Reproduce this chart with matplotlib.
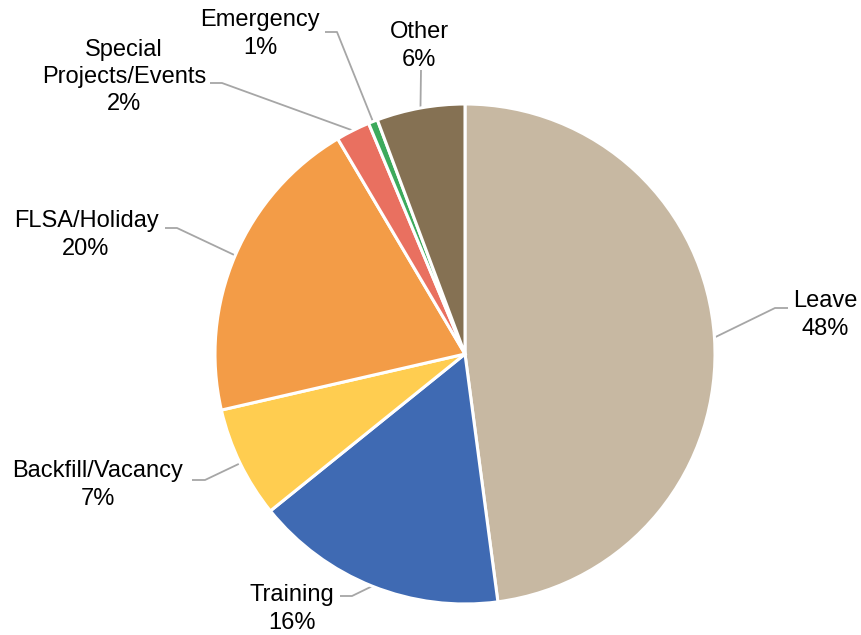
import numpy as np
import matplotlib
matplotlib.use("Agg")
import matplotlib.pyplot as plt

categories = ["Leave", "Training", "Backfill/Vacancy", "FLSA/Holiday",
              "Special\nProjects/Events", "Emergency", "Other"]
values = [47.9, 16.3, 7.2, 20.1, 2.2, 0.6, 5.7]
colors = ["#C7B8A2", "#3F6AB3", "#FFCD50", "#F39C47", "#E97060", "#3DAA5C", "#857153"]

H = 635
# label layout (pixel coords, y from top): text center, elbow point, stub end
label_pos = [(825, 315), (292, 609), (98, 485), (86, 235), (124, 77), (260, 34), (419, 46)]
elbow = [(775, 308), (352, 596), (205, 480), (177, 228), (222, 83), (337, 32), (421, 70)]
stub = [(788, 308), (340, 596), (192, 480), (165, 228), (210, 83), (325, 32), (421, 70)]

fig = plt.figure(figsize=(8.61, 6.35), dpi=100)
ax = fig.add_axes([0, 0, 1, 1])

cx, cy, r = 465, H - 354, 250
ax.pie(values, colors=colors, startangle=90, counterclock=False,
       center=(cx, cy), radius=r, frame=True,
       wedgeprops=dict(edgecolor="white", linewidth=2.2))
ax.set_xlim(0, 861)
ax.set_ylim(0, H)
ax.set_aspect("equal")
ax.axis("off")

total = sum(values)
start = 90.0
for i, (cat, v) in enumerate(zip(categories, values)):
    span = 360.0 * v / total
    mid = np.deg2rad(start - span / 2)
    start -= span
    px, py = cx + r * np.cos(mid), cy + r * np.sin(mid)
    ex, ey = elbow[i]
    sx, sy = stub[i]
    ax.plot([px, ex, sx], [py, H - ey, H - sy], color="#A6A6A6", lw=1.3,
            solid_capstyle="butt", zorder=0.5)
    pct = f"{int(np.floor(v + 0.5))}%"
    tx, ty = label_pos[i]
    ax.text(tx, H - ty, f"{cat}\n{pct}", ha="center", va="center",
            fontsize=17, family="Liberation Sans", linespacing=1.3,
            color="#000000")

fig.savefig("out.png", dpi=100)
